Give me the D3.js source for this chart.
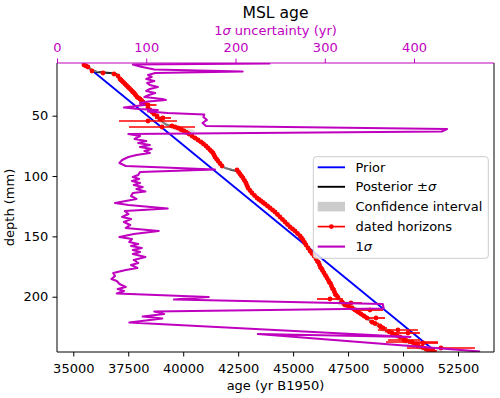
<!DOCTYPE html>
<html><head><meta charset="utf-8">
<script src="https://cdn.jsdelivr.net/npm/d3@7"></script>
<style>body{margin:0;background:#fff} text{font-family:"DejaVu Sans",sans-serif}</style>
</head><body><svg id="c" width="500" height="398"></svg>
<script>
// ---------- data ----------
const ageTicks=[35000,37500,40000,42500,45000,47500,50000,52500];
const depthTicks=[50,100,150,200];
const sigmaTicks=[0,100,200,300,400];

const priorDepth=[6.33,245.82];
const priorAge=[35441,51499];

const postDepth=[7.16,9.64,12.13,13.79,14.62,15.44,17.10,20.42,24.56,28.70,32.85,36.99,41.13,45.28,49.42,53.56,56.05,57.71,59.37,61.02,62.68,66.00,70.14,74.28,78.43,82.57,86.71,90.86,93.34,95.00,95.83,99.14,103.29,107.43,111.57,115.72,119.86,124.00,128.15,132.29,136.43,140.58,144.72,148.86,153.01,157.15,161.30,165.44,169.58,173.73,177.87,182.01,186.16,190.30,194.44,198.59,202.73,206.87,211.02,215.16,219.30,223.45,227.59,231.73,235.88,240.02,244.17,245.82];
const postAge=[35487,35669,35851,36078,36670,36943,37033,37170,37397,37625,37807,38080,38307,38489,38717,38944,39126,39263,39627,39945,40127,40309,40627,40991,41218,41400,41537,41719,41901,42219,42447,42629,42765,42856,42993,43220,43493,43766,44039,44312,44585,44812,45040,45267,45449,45586,45722,45904,46086,46222,46313,46450,46586,46723,46814,46905,47132,47405,47860,48133,48451,48815,49179,49634,50134,50544,51226,51499];
const postSd=[85,93,109,150,110,105,104,104,104,102,103,122,97,113,165,168,162,166,300,437,431,90,95,104,100,88,73,75,150,150,93,91,88,86,95,84,85,79,90,77,80,82,100,80,82,86,85,90,86,83,77,64,65,73,72,110,131,365,200,110,110,150,300,230,360,400,460,474];

const datedDepth=[7.99,9.64,12.96,14.62,15.44,17.10,19.59,21.24,23.73,26.22,28.70,31.19,34.50,36.16,38.65,41.13,43.62,46.93,51.90,54.39,59.37,58.54,60.19,62.68,65.17,68.48,71.80,75.11,78.43,80.91,84.23,87.54,91.69,95.00,98.31,101.63,105.77,109.92,114.06,118.20,120.69,123.18,126.49,129.81,133.94,138.09,142.23,145.55,149.69,153.01,157.15,162.12,166.27,171.24,176.21,180.36,184.50,188.64,193.62,198.59,201.90,205.21,206.87,209.36,212.67,211.02,215.99,217.65,220.96,224.28,227.59,230.08,230.08,235.88,237.53,238.36,240.85,242.51,243.34,245.00,
  96.66,99.97,103.70,107.84,112.00,116.13,119.44,121.93,124.83,128.15,131.88,136.02,140.16,143.89,147.62,151.35,155.08,159.64,164.20,168.76,173.73,178.28,182.43,186.57,191.13,196.10,200.66,
  8.81,20.42,22.49,24.98,27.46,29.95,32.85,35.33,37.40,39.89,45.28,48.59,50.25,52.73,59.37,61.44,63.92,66.82,70.14,73.45,76.77,79.67,82.57,85.88,89.61,
  204.38,208.11,211.02,214.33,217.65,222.21,225.94,228.84,231.33,233.40,236.30,239.62,241.69,243.76];
const datedAge=[35487,35669,35851,36351,36852,37033,37124,37215,37352,37488,37625,37761,37898,38034,38171,38398,38398,38580,39080,38398,39035,39490,39763,40036,40264,40537,40810,41037,41218,41355,41446,41583,41765,42447,42583,42720,42856,42947,43129,43357,43539,43721,43948,44175,44403,44630,44858,45085,45313,45449,45586,45768,45950,46132,46268,46404,46541,46677,46814,46950,46677,47632,47359,47678,47951,48497,48224,48770,48588,48952,49770,49497,50225,50043,50407,50908,50680,51726,51045,51362,
  42515,42651,42788,42902,43038,43243,43448,43630,43835,44062,44289,44517,44744,44972,45199,45381,45518,45677,45859,46041,46200,46336,46473,46609,46746,46882,47041,
  35578,37170,37284,37420,37557,37693,37830,37966,38102,38262,38489,38671,38808,38944,39627,39900,40150,40400,40673,40923,41127,41287,41400,41514,41674,
  47223,47519,47814,48087,48360,48724,49088,49361,49634,49861,50134,50589,50862,51135];
const datedErr=[91,91,91,91,91,91,91,91,91,91,91,130,91,91,130,387,91,91,364,1319,1501,130,180,180,130,130,130,91,91,91,91,91,91,91,91,91,91,91,91,91,91,91,91,91,91,91,91,91,91,91,91,91,91,130,130,91,91,130,130,130,591,500,130,130,130,591,130,409,130,130,910,180,546,728,1183,682,180,1547,180,180,
  91,91,91,91,91,91,91,91,91,91,91,91,91,91,91,91,91,91,91,91,91,91,91,91,91,91,91,
  91,91,91,91,91,91,91,91,91,91,91,91,91,91,130,130,130,91,91,91,91,91,91,91,91,
  130,130,130,130,130,180,180,180,180,180,180,180,180,180];

const sigmaDepth=[6.74,7.57,9.23,11.71,13.37,14.61,16.27,17.93,19.59,21.24,22.90,24.56,26.22,27.87,29.53,31.19,32.85,34.50,36.16,36.99,38.23,39.48,41.13,43.20,44.45,45.28,46.52,47.76,49.00,51.08,53.56,56.05,58.54,61.02,63.09,65.17,66.82,69.31,70.97,72.62,74.28,75.94,77.60,79.25,80.91,82.57,84.23,86.71,89.20,91.69,94.58,96.66,99.14,100.80,102.46,104.11,105.77,107.43,109.09,110.74,112.81,114.06,116.54,119.03,122.35,124.00,126.90,128.97,131.46,133.94,135.60,138.09,140.57,143.06,145.55,148.03,150.52,152.18,154.66,156.32,157.98,159.64,161.29,162.95,164.61,167.10,169.58,172.07,173.73,176.21,177.87,180.36,182.84,185.33,186.98,189.47,191.96,193.62,195.28,197.35,200.25,202.32,206.05,209.78,212.27,214.34,216.41,218.06,221.37,233.39,230.90,245.40];
const sigmaVal=[239,85,93,109,208,110,102,106,100,109,101,104,113,104,100,110,103,98,118,122,102,93,98,75,91,113,102,124,165,164,168,163,167,437,431,80,93,87,100,91,104,93,106,98,104,89,80,73,70,77,177,93,91,85,92,84,93,86,96,89,99,85,83,89,65,80,124,76,80,73,83,75,82,77,114,86,70,84,81,91,83,95,85,93,85,99,86,91,83,90,77,63,65,61,67,70,77,68,75,67,170,131,365,366,109,120,96,118,81,396,225,474];

// ---------- layout ----------
const L=57,R=494,T=63,B=352;
const MAG="#bf00bf";
const svg=d3.select("#c");
const x=d3.scaleLinear().domain([34259,54138]).range([L,R]);
const y=d3.scaleLinear().domain([6.33,245.82]).range([T,B]);
const xs=d3.scaleLinear().domain([0,489.6]).range([L,R]);

svg.append("defs").append("clipPath").attr("id","clip")
  .append("rect").attr("x",L).attr("y",T).attr("width",R-L).attr("height",B-T);
const g=svg.append("g").attr("clip-path","url(#clip)");

// prior
g.append("path").datum(d3.range(priorDepth.length))
  .attr("d",d3.line().x(i=>x(priorAge[i])).y(i=>y(priorDepth[i])))
  .attr("fill","none").attr("stroke","#0000ff").attr("stroke-width",1.9);
// posterior
const pidx=d3.range(postDepth.length);
g.append("path").datum(pidx)
  .attr("d",d3.line().x(i=>x(postAge[i])).y(i=>y(postDepth[i])))
  .attr("fill","none").attr("stroke","#000").attr("stroke-width",1.9);
// confidence band
g.append("path").datum(pidx)
  .attr("d",d3.area().y(i=>y(postDepth[i])).x0(i=>x(postAge[i]-postSd[i])).x1(i=>x(postAge[i]+postSd[i])))
  .attr("fill","#cccccc").attr("opacity",0.6);
// dated horizons
const didx=d3.range(datedDepth.length);
g.selectAll("line.err").data(didx).join("line").attr("class","err")
  .attr("x1",i=>x(datedAge[i]-datedErr[i])).attr("x2",i=>x(datedAge[i]+datedErr[i]))
  .attr("y1",i=>y(datedDepth[i])).attr("y2",i=>y(datedDepth[i]))
  .attr("stroke","#ff0000").attr("stroke-width",1.7);
g.selectAll("circle.pt").data(didx).join("circle").attr("class","pt")
  .attr("cx",i=>x(datedAge[i])).attr("cy",i=>y(datedDepth[i])).attr("r",2.4)
  .attr("fill","#ff0000");
// 1 sigma
const sidx=d3.range(sigmaDepth.length);
g.append("path").datum(sidx)
  .attr("d",d3.line().x(i=>xs(sigmaVal[i])).y(i=>y(sigmaDepth[i])))
  .attr("fill","none").attr("stroke",MAG).attr("stroke-width",2.1).attr("stroke-linejoin","round");

// ---------- axes ----------
function style(sel,color){
  sel.select(".domain").remove();
  sel.selectAll(".tick line").attr("stroke",color).attr("stroke-width",1);
  sel.selectAll(".tick text").attr("fill",color).style("font-size","13px").style("font-family","DejaVu Sans");
}
const ax=svg.append("g").attr("transform",`translate(0,${B})`)
  .call(d3.axisBottom(x).tickValues(ageTicks).tickFormat(d3.format("d")).tickSize(4.5).tickPadding(6.8));
style(ax,"#000");
const ay=svg.append("g").attr("transform",`translate(${L},0)`)
  .call(d3.axisLeft(y).tickValues(depthTicks).tickFormat(d3.format("d")).tickSize(4.5).tickPadding(4.2));
style(ay,"#000");
const at=svg.append("g").attr("transform",`translate(0,${T})`)
  .call(d3.axisTop(xs).tickValues(sigmaTicks).tickFormat(d3.format("d")).tickSize(4.5).tickPadding(7));
style(at,MAG);

// spines
svg.append("line").attr("x1",L).attr("x2",L).attr("y1",T).attr("y2",B).attr("stroke","#000").attr("stroke-width",1);
svg.append("line").attr("x1",R).attr("x2",R).attr("y1",T).attr("y2",B).attr("stroke","#000").attr("stroke-width",1);
svg.append("line").attr("x1",L).attr("x2",R).attr("y1",B).attr("y2",B).attr("stroke","#000").attr("stroke-width",1);
svg.append("line").attr("x1",L).attr("x2",R).attr("y1",T).attr("y2",T).attr("stroke",MAG).attr("stroke-width",1);

// labels
svg.append("text").attr("x",(L+R)/2).attr("y",17.5).attr("text-anchor","middle")
  .style("font-size","15.6px").attr("fill","#000").text("MSL age");
const tl=svg.append("text").attr("x",(L+R)/2).attr("y",34.5).attr("text-anchor","middle")
  .style("font-size","13px").attr("fill",MAG);
tl.append("tspan").text("1");
tl.append("tspan").attr("font-style","italic").text("σ");
tl.append("tspan").text(" uncertainty (yr)");
svg.append("text").attr("x",(L+R)/2).attr("y",390).attr("text-anchor","middle")
  .style("font-size","13px").attr("fill","#000").text("age (yr B1950)");
svg.append("text").attr("transform",`translate(13.7,${(T+B)/2}) rotate(-90)`).attr("text-anchor","middle")
  .style("font-size","13px").attr("fill","#000").text("depth (mm)");

// ---------- legend ----------
const lg=svg.append("g");
lg.append("rect").attr("x",313.3).attr("y",156.7).attr("width",175).attr("height",101.6).attr("rx",3)
  .attr("fill","#fff").attr("fill-opacity",0.8).attr("stroke","#cccccc").attr("stroke-width",1);
const hx0=317.7,hx1=345,tx=355.5,ly=[167.3,186.8,206.6,226.6,246.6];
lg.append("line").attr("x1",hx0).attr("x2",hx1).attr("y1",ly[0]).attr("y2",ly[0]).attr("stroke","#0000ff").attr("stroke-width",1.9);
lg.append("line").attr("x1",hx0).attr("x2",hx1).attr("y1",ly[1]).attr("y2",ly[1]).attr("stroke","#000").attr("stroke-width",1.9);
lg.append("rect").attr("x",hx0).attr("y",ly[2]-4.8).attr("width",hx1-hx0).attr("height",9.6).attr("fill","#cccccc");
lg.append("line").attr("x1",hx0).attr("x2",hx1).attr("y1",ly[3]).attr("y2",ly[3]).attr("stroke","#ff0000").attr("stroke-width",1.7);
lg.append("circle").attr("cx",(hx0+hx1)/2).attr("cy",ly[3]).attr("r",2.4).attr("fill","#ff0000");
lg.append("line").attr("x1",hx0).attr("x2",hx1).attr("y1",ly[4]).attr("y2",ly[4]).attr("stroke",MAG).attr("stroke-width",2.1);
function ltext(i){return lg.append("text").attr("x",tx).attr("y",ly[i]+4.6).style("font-size","13px").attr("fill","#000");}
ltext(0).text("Prior");
const t1=ltext(1); t1.append("tspan").text("Posterior ±"); t1.append("tspan").attr("font-style","italic").text("σ");
ltext(2).text("Confidence interval");
ltext(3).text("dated horizons");
const t4=ltext(4); t4.append("tspan").text("1"); t4.append("tspan").attr("font-style","italic").text("σ");
</script></body></html>
